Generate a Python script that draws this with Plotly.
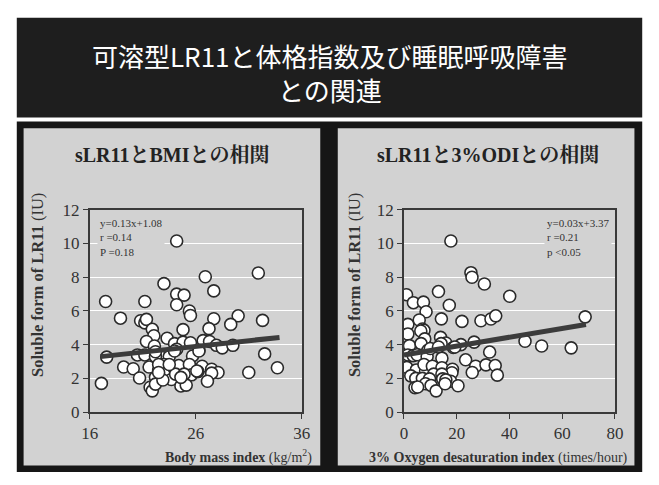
import plotly.graph_objects as go

# ---------------- data ----------------
bmi_x = [17.5, 21.2, 24.2, 23.0, 26.9, 31.9, 27.7, 24.2, 24.9, 24.2, 25.4, 25.5, 18.9, 20.8,
         21.2, 21.35, 27.7, 30.0, 32.3, 29.3, 27.25, 24.8, 21.9, 22.05, 21.35, 23.3, 24.0, 24.8,
         25.5, 26.7, 27.3, 27.95, 28.5, 29.5, 22.1, 24.2, 26.3, 32.5, 25.7, 22.6, 23.5, 20.5,
         21.2, 17.6, 22.2, 22.2, 24.0, 26.3, 19.2, 20.1, 21.6, 22.5, 23.0, 24.4, 25.4, 26.6,
         27.5, 28.1, 27.5, 31.0, 33.7, 20.7, 22.2, 23.0, 23.7, 24.1, 24.9, 25.6, 26.2, 27.1,
         17.1, 21.7, 21.9, 22.2, 24.6, 25.1, 22.9, 22.5, 23.5, 22.5, 24.9, 26.1, 24.6]
bmi_y = [6.56, 6.56, 10.15, 7.62, 8.03, 8.25, 7.19, 7.0, 6.94, 6.37, 6.0, 5.73, 5.57, 5.42,
         5.29, 5.5, 5.54, 5.71, 5.44, 5.2, 4.95, 4.89, 4.91, 4.53, 4.19, 4.38, 4.06, 4.15,
         4.11, 4.24, 4.19, 3.96, 3.81, 3.96, 3.92, 3.73, 3.67, 3.45, 3.33, 3.33, 3.29, 3.39,
         3.39, 3.26, 3.29, 3.58, 3.62, 3.62, 2.67, 2.57, 2.67, 2.48, 2.82, 2.76, 2.82, 2.72,
         2.54, 2.35, 2.31, 2.35, 2.63, 2.02, 2.06, 2.25, 1.93, 2.25, 2.1, 2.21, 2.40, 1.83,
         1.7, 1.47, 1.26, 1.66, 1.55, 1.6, 1.9, 2.82, 2.82, 2.35, 2.25, 2.44, 2.06]
bmi_fit_x = [17.0, 33.9]
bmi_fit_y = [3.29, 4.43]

odi_x = [1.0, 3.6, 7.4, 8.4, 13.1, 17.2, 17.8, 25.4, 25.8, 30.5, 40.1, 68.7,
         1.5, 5.8, 7.0, 7.6, 6.4, 14.2, 22.0, 29.2, 33.0, 34.8,
         1.5, 2.1, 7.9, 6.5, 13.9, 15.9, 18.7, 21.6, 26.6, 45.9, 52.2, 63.4, 14.1,
         0.9, 1.5, 3.5, 5.0, 9.1, 8.8, 10.0, 13.1, 19.3, 14.4, 23.4, 32.5,
         1.1, 4.7, 8.2, 7.6, 10.8, 14.4, 18.4, 18.2, 11.3, 14.4, 27.2, 25.9, 31.1, 34.6, 35.4,
         2.6, 4.5, 7.0, 9.7, 14.7, 17.7, 15.9, 20.5, 4.2, 8.2, 10.3, 12.2, 15.6, 5.2]
odi_y = [6.96, 6.49, 6.52, 5.95, 7.15, 6.34, 10.15, 8.27, 8.0, 7.6, 6.87, 5.65,
         5.2, 5.46, 4.93, 4.85, 4.81, 5.53, 5.38, 5.42, 5.52, 5.71,
         4.63, 3.94, 4.34, 4.06, 4.43, 4.1, 3.83, 4.0, 4.15, 4.2, 3.92, 3.81, 4.06,
         3.29, 3.39, 3.35, 3.4, 3.67, 3.29, 3.77, 3.86, 3.86, 3.2, 3.1, 3.56,
         2.65, 2.5, 2.44, 2.82, 2.72, 2.63, 2.54, 2.33, 2.25, 2.25, 2.72, 2.35, 2.8, 2.76, 2.19,
         2.15, 2.0, 2.0, 1.97, 1.97, 1.83, 1.91, 1.56, 1.45, 1.68, 1.58, 1.26, 1.68, 1.49]
odi_fit_x = [0.0, 69.0]
odi_fit_y = [3.39, 5.2]

y_ticks = [0, 2, 4, 6, 8, 10, 12]
bmi_ticks = [16, 26, 36]
odi_ticks = [0, 20, 40, 60, 80]

main_title_1 = "可溶型LR11と体格指数及び睡眠呼吸障害"
main_title_2 = "との関連"
left_title = "sLR11とBMIとの相関"
right_title = "sLR11と3%ODIとの相関"
y_title = "<b>Soluble form of LR11</b> (IU)"
left_xtitle = "<b>Body mass index</b> (kg/m<sup>2</sup>)"
right_xtitle = "<b>3% Oxygen desaturation index</b> (times/hour)"
left_stats = "y=0.13x+1.08<br>r =0.14<br>P =0.18"
right_stats = "y=0.03x+3.37<br>r =0.21<br>p <0.05"

# ---------------- figure ----------------
W, H = 659, 485
def px(x):
    return x / W
def py(y):
    return 1 - y / H

SERIF = "Liberation Serif, Noto Serif CJK JP, Noto Sans CJK JP"
DARK = "#333333"
GRAY = "#d2d2d2"

fig = go.Figure()

marker = dict(size=12, color="white", line=dict(color="#2b2b2b", width=1.6))
fig.add_trace(go.Scatter(x=bmi_x, y=bmi_y, mode="markers", marker=marker,
                         xaxis="x", yaxis="y", showlegend=False))
fig.add_trace(go.Scatter(x=bmi_fit_x, y=bmi_fit_y, mode="lines",
                         line=dict(color="#3c3c3c", width=5),
                         xaxis="x", yaxis="y", showlegend=False))
fig.add_trace(go.Scatter(x=odi_x, y=odi_y, mode="markers", marker=marker,
                         xaxis="x2", yaxis="y2", showlegend=False))
fig.add_trace(go.Scatter(x=odi_fit_x, y=odi_fit_y, mode="lines",
                         line=dict(color="#3c3c3c", width=5),
                         xaxis="x2", yaxis="y2", showlegend=False))

ax_common = dict(showline=True, mirror=True, linecolor="#3a3a3a", linewidth=1.5,
                 ticks="outside", ticklen=5, tickcolor="#3a3a3a", tickwidth=1.2,
                 tickfont=dict(family=SERIF, size=17, color=DARK), zeroline=False)

ydom = [py(419.5), py(209)]
fig.update_layout(
    width=W, height=H, autosize=False,
    margin=dict(l=0, r=0, t=0, b=0),
    paper_bgcolor="white", plot_bgcolor="rgba(0,0,0,0)",
    xaxis=dict(domain=[px(83), px(301)], range=[16, 36], tickvals=bmi_ticks,
               showgrid=False, anchor="y", **ax_common),
    yaxis=dict(domain=ydom, range=[0, 12], tickvals=y_ticks, showgrid=True,
               gridcolor="white", gridwidth=1.2, anchor="x", **ax_common),
    xaxis2=dict(domain=[px(406), px(623)], range=[0, 80], tickvals=odi_ticks,
                showgrid=False, anchor="y2", **ax_common),
    yaxis2=dict(domain=ydom, range=[0, 12], tickvals=y_ticks, showgrid=True,
                gridcolor="white", gridwidth=1.2, anchor="x2", **ax_common),
)

shapes = [
    dict(type="rect", xref="paper", yref="paper", x0=px(8), x1=px(651), y0=py(9), y1=py(113),
         fillcolor="#1e1e1e", line=dict(width=0), layer="below"),
    dict(type="rect", xref="paper", yref="paper", x0=px(8), x1=px(651), y0=py(117), y1=py(482),
         fillcolor="#161616", line=dict(width=0), layer="below"),
    dict(type="rect", xref="paper", yref="paper", x0=px(15), x1=px(320), y0=py(124), y1=py(475),
         fillcolor=GRAY, line=dict(width=0), layer="below"),
    dict(type="rect", xref="paper", yref="paper", x0=px(338), x1=px(643), y0=py(124), y1=py(475),
         fillcolor=GRAY, line=dict(width=0), layer="below"),
]
fig.update_layout(shapes=shapes)

ann = []
ann.append(dict(text=main_title_1, x=px(330), y=py(48), xref="paper", yref="paper",
                showarrow=False, font=dict(family="Noto Sans CJK JP", size=26, color="white"),
                xanchor="center", yanchor="middle"))
ann.append(dict(text=main_title_2, x=px(330), y=py(84), xref="paper", yref="paper",
                showarrow=False, font=dict(family="Noto Sans CJK JP", size=26, color="white"),
                xanchor="center", yanchor="middle"))
ann.append(dict(text="<b>" + left_title + "</b>", x=px(168), y=py(152), xref="paper", yref="paper",
                showarrow=False, font=dict(family=SERIF, size=20, color="#222222"),
                xanchor="center", yanchor="middle"))
ann.append(dict(text="<b>" + right_title + "</b>", x=px(492), y=py(152), xref="paper", yref="paper",
                showarrow=False, font=dict(family=SERIF, size=20, color="#222222"),
                xanchor="center", yanchor="middle"))
for xc in (30, 355):
    ann.append(dict(text=y_title, x=px(xc), y=py(287), xref="paper", yref="paper",
                    showarrow=False, textangle=-90,
                    font=dict(family=SERIF, size=16.5, color=DARK),
                    xanchor="center", yanchor="middle"))
ann.append(dict(text=left_xtitle, x=px(314), y=py(466), xref="paper", yref="paper",
                showarrow=False, font=dict(family=SERIF, size=14, color=DARK),
                xanchor="right", yanchor="middle"))
ann.append(dict(text=right_xtitle, x=px(638), y=py(467), xref="paper", yref="paper",
                showarrow=False, font=dict(family=SERIF, size=14, color=DARK),
                xanchor="right", yanchor="middle"))
ann.append(dict(text=left_stats, x=px(90), y=py(213), xref="paper", yref="paper",
                showarrow=False, align="left", bgcolor=GRAY,
                font=dict(family=SERIF, size=11, color=DARK),
                xanchor="left", yanchor="top", borderpad=2))
ann.append(dict(text=right_stats, x=px(550), y=py(213), xref="paper", yref="paper",
                showarrow=False, align="left", bgcolor=GRAY,
                font=dict(family=SERIF, size=11, color=DARK),
                xanchor="left", yanchor="top", borderpad=2))
fig.update_layout(annotations=ann)

fig.write_html("out.html", config={"displayModeBar": False},
               post_script="document.body.style.margin='0';document.body.style.overflow='hidden';")
